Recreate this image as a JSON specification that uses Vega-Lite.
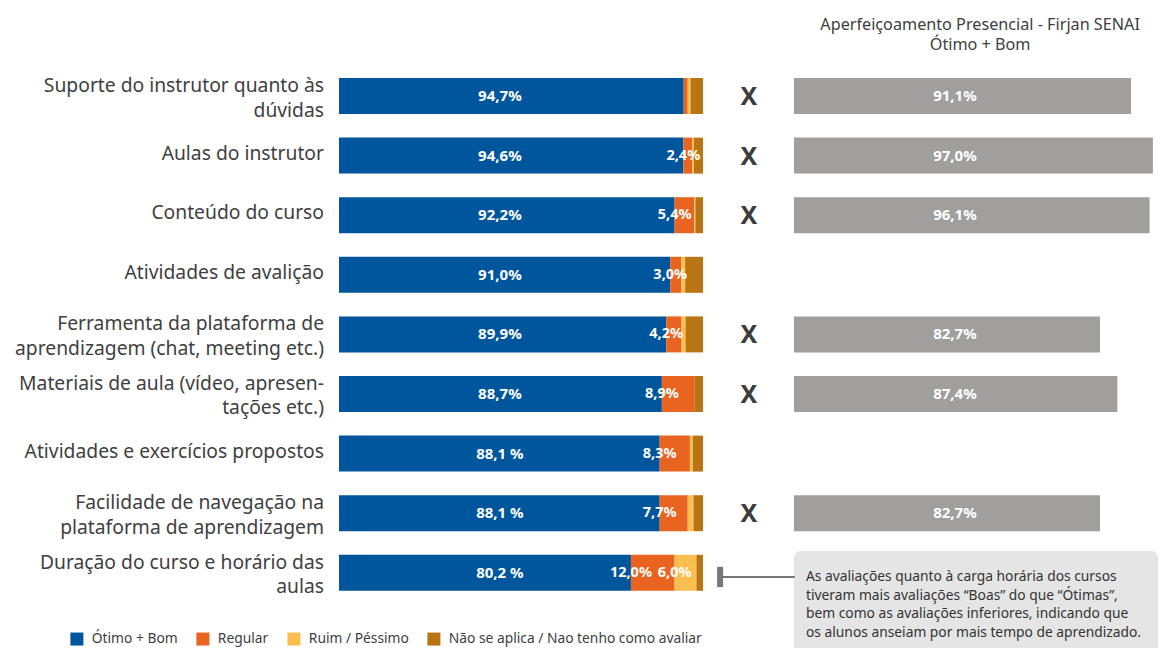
{
  "$schema": "https://vega.github.io/schema/vega-lite/v6.json",
  "width": 1171,
  "height": 648,
  "autosize": "none",
  "padding": 0,
  "background": "white",
  "config": {"view": {"stroke": null}, "font": "Noto Sans"},
  "datasets": {
    "seg": [
      {"rank": 1, "cat": "Ótimo + Bom", "order": 1, "value": 94.7, "label": "94,7%"},
      {"rank": 1, "cat": "Regular", "order": 2, "value": 1.1, "label": ""},
      {"rank": 1, "cat": "Ruim / Péssimo", "order": 3, "value": 0.8, "label": ""},
      {"rank": 1, "cat": "Não se aplica / Nao tenho como avaliar", "order": 4, "value": 3.4, "label": ""},
      {"rank": 2, "cat": "Ótimo + Bom", "order": 1, "value": 94.6, "label": "94,6%"},
      {"rank": 2, "cat": "Regular", "order": 2, "value": 2.4, "label": "2,4%"},
      {"rank": 2, "cat": "Ruim / Péssimo", "order": 3, "value": 0.5, "label": ""},
      {"rank": 2, "cat": "Não se aplica / Nao tenho como avaliar", "order": 4, "value": 2.5, "label": ""},
      {"rank": 3, "cat": "Ótimo + Bom", "order": 1, "value": 92.2, "label": "92,2%"},
      {"rank": 3, "cat": "Regular", "order": 2, "value": 5.4, "label": "5,4%"},
      {"rank": 3, "cat": "Ruim / Péssimo", "order": 3, "value": 0.3, "label": ""},
      {"rank": 3, "cat": "Não se aplica / Nao tenho como avaliar", "order": 4, "value": 2.1, "label": ""},
      {"rank": 4, "cat": "Ótimo + Bom", "order": 1, "value": 91.0, "label": "91,0%"},
      {"rank": 4, "cat": "Regular", "order": 2, "value": 3.0, "label": "3,0%"},
      {"rank": 4, "cat": "Ruim / Péssimo", "order": 3, "value": 1.1, "label": ""},
      {"rank": 4, "cat": "Não se aplica / Nao tenho como avaliar", "order": 4, "value": 4.9, "label": ""},
      {"rank": 5, "cat": "Ótimo + Bom", "order": 1, "value": 89.9, "label": "89,9%"},
      {"rank": 5, "cat": "Regular", "order": 2, "value": 4.2, "label": "4,2%"},
      {"rank": 5, "cat": "Ruim / Péssimo", "order": 3, "value": 1.1, "label": ""},
      {"rank": 5, "cat": "Não se aplica / Nao tenho como avaliar", "order": 4, "value": 4.8, "label": ""},
      {"rank": 6, "cat": "Ótimo + Bom", "order": 1, "value": 88.7, "label": "88,7%"},
      {"rank": 6, "cat": "Regular", "order": 2, "value": 8.9, "label": "8,9%"},
      {"rank": 6, "cat": "Ruim / Péssimo", "order": 3, "value": 0.0, "label": ""},
      {"rank": 6, "cat": "Não se aplica / Nao tenho como avaliar", "order": 4, "value": 2.4, "label": ""},
      {"rank": 7, "cat": "Ótimo + Bom", "order": 1, "value": 88.1, "label": "88,1 %"},
      {"rank": 7, "cat": "Regular", "order": 2, "value": 8.3, "label": "8,3%"},
      {"rank": 7, "cat": "Ruim / Péssimo", "order": 3, "value": 0.8, "label": ""},
      {"rank": 7, "cat": "Não se aplica / Nao tenho como avaliar", "order": 4, "value": 2.8, "label": ""},
      {"rank": 8, "cat": "Ótimo + Bom", "order": 1, "value": 88.1, "label": "88,1 %"},
      {"rank": 8, "cat": "Regular", "order": 2, "value": 7.7, "label": "7,7%"},
      {"rank": 8, "cat": "Ruim / Péssimo", "order": 3, "value": 1.6, "label": ""},
      {"rank": 8, "cat": "Não se aplica / Nao tenho como avaliar", "order": 4, "value": 2.6, "label": ""},
      {"rank": 9, "cat": "Ótimo + Bom", "order": 1, "value": 80.2, "label": "80,2 %"},
      {"rank": 9, "cat": "Regular", "order": 2, "value": 12.0, "label": "12,0%"},
      {"rank": 9, "cat": "Ruim / Péssimo", "order": 3, "value": 6.0, "label": "6,0%"},
      {"rank": 9, "cat": "Não se aplica / Nao tenho como avaliar", "order": 4, "value": 1.8, "label": ""}
    ],
    "items": [
      {"rank": 1, "item": ["Suporte do instrutor quanto às", "dúvidas"], "mark": "X", "presencial": 91.1, "plabel": "91,1%"},
      {"rank": 2, "item": ["Aulas do instrutor"], "mark": "X", "presencial": 97.0, "plabel": "97,0%"},
      {"rank": 3, "item": ["Conteúdo do curso"], "mark": "X", "presencial": 96.1, "plabel": "96,1%"},
      {"rank": 4, "item": ["Atividades de avalição"], "mark": "", "presencial": null, "plabel": ""},
      {"rank": 5, "item": ["Ferramenta da plataforma de", "aprendizagem (chat, meeting etc.)"], "mark": "X", "presencial": 82.7, "plabel": "82,7%"},
      {"rank": 6, "item": ["Materiais de aula (vídeo, apresen-", "tações etc.)"], "mark": "X", "presencial": 87.4, "plabel": "87,4%"},
      {"rank": 7, "item": ["Atividades e exercícios propostos"], "mark": "", "presencial": null, "plabel": ""},
      {"rank": 8, "item": ["Facilidade de navegação na", "plataforma de aprendizagem"], "mark": "X", "presencial": 82.7, "plabel": "82,7%"},
      {"rank": 9, "item": ["Duração do curso e horário das", "aulas"], "mark": "", "presencial": null, "plabel": ""}
    ]
  },
  "resolve": {"scale": {"x": "independent", "xOffset": "independent", "color": "independent"}},
  "layer": [
    {
      "data": {"name": "seg"},
      "transform": [
        {"stack": "value", "groupby": ["rank"], "sort": [{"field": "order", "order": "ascending"}], "as": ["x0", "x1"]}
      ],
      "mark": {"type": "bar", "orient": "horizontal", "height": 36},
      "encoding": {
        "x": {"field": "x0", "type": "quantitative", "axis": null, "scale": {"domain": [0, 100], "range": [339, 703], "nice": false, "zero": false, "padding": 0}},
        "x2": {"field": "x1"},
        "y": {"field": "rank", "type": "quantitative", "axis": null, "scale": {"domain": [-0.611, 10.262], "range": [0, 648], "nice": false, "zero": false, "padding": 0}},
        "color": {
          "field": "cat", "type": "nominal",
          "scale": {"domain": ["Ótimo + Bom", "Regular", "Ruim / Péssimo", "Não se aplica / Nao tenho como avaliar"], "range": ["#00569d", "#e96421", "#fbbe4f", "#b97414"]},
          "legend": {"orient": "none", "legendX": 70, "legendY": 632, "direction": "horizontal", "title": null, "symbolType": "square", "symbolSize": 169, "symbolStrokeWidth": 0, "labelFontSize": 13.8, "labelColor": "#404040", "labelFont": "Noto Sans", "columnPadding": 18, "labelOffset": 8, "labelLimit": 400}
        }
      }
    },
    {
      "data": {"name": "seg"},
      "transform": [{"filter": "datum.order == 1"}],
      "mark": {"type": "text", "color": "white", "fontWeight": "bold", "fontSize": 15, "baseline": "middle", "align": "center"},
      "encoding": {
        "x": {"datum": 44.2, "type": "quantitative", "axis": null, "scale": {"domain": [0, 100], "range": [339, 703], "nice": false, "zero": false, "padding": 0}},
        "y": {"field": "rank", "type": "quantitative", "axis": null, "scale": {"domain": [-0.611, 10.262], "range": [0, 648], "nice": false, "zero": false, "padding": 0}},
        "text": {"field": "label"}
      }
    },
    {
      "data": {"name": "seg"},
      "transform": [
        {"stack": "value", "groupby": ["rank"], "sort": [{"field": "order", "order": "ascending"}], "as": ["x0", "x1"]},
        {"filter": "datum.order > 1 && datum.label != ''"}
      ],
      "mark": {"type": "text", "color": "white", "fontWeight": "bold", "fontSize": 14.5, "baseline": "middle", "align": "center"},
      "encoding": {
        "x": {"field": "x0", "type": "quantitative", "axis": null, "scale": {"domain": [0, 100], "range": [339, 703], "nice": false, "zero": false, "padding": 0}},
        "xOffset": {"field": "value", "type": "quantitative", "scale": {"domain": [0, 100], "range": [0, 182]}},
        "y": {"field": "rank", "type": "quantitative", "axis": null, "scale": {"domain": [-0.611, 10.262], "range": [0, 648], "nice": false, "zero": false, "padding": 0}},
        "text": {"field": "label"}
      }
    },
    {
      "data": {"name": "items"},
      "transform": [{"filter": "length(datum.item) == 1"}],
      "mark": {"type": "text", "color": "#404040", "fontSize": 19.3, "lineHeight": 24, "baseline": "middle", "align": "right", "dx": -15, "dy": -2},
      "encoding": {
        "x": {"datum": 0, "type": "quantitative", "axis": null, "scale": {"domain": [0, 100], "range": [339, 703], "nice": false, "zero": false, "padding": 0}},
        "y": {"field": "rank", "type": "quantitative", "axis": null, "scale": {"domain": [-0.611, 10.262], "range": [0, 648], "nice": false, "zero": false, "padding": 0}},
        "text": {"field": "item"}
      }
    },
    {
      "data": {"name": "items"},
      "transform": [{"filter": "length(datum.item) == 2"}],
      "mark": {"type": "text", "color": "#404040", "fontSize": 19.3, "lineHeight": 24.5, "baseline": "middle", "align": "right", "dx": -15, "dy": -10},
      "encoding": {
        "x": {"datum": 0, "type": "quantitative", "axis": null, "scale": {"domain": [0, 100], "range": [339, 703], "nice": false, "zero": false, "padding": 0}},
        "y": {"field": "rank", "type": "quantitative", "axis": null, "scale": {"domain": [-0.611, 10.262], "range": [0, 648], "nice": false, "zero": false, "padding": 0}},
        "text": {"field": "item"}
      }
    },
    {
      "data": {"name": "items"},
      "transform": [{"filter": "datum.mark == 'X'"}],
      "mark": {"type": "text", "color": "#3c3c3c", "fontSize": 25, "fontWeight": "bold", "baseline": "middle", "align": "center", "dy": 1},
      "encoding": {
        "x": {"datum": 112.6, "type": "quantitative", "axis": null, "scale": {"domain": [0, 100], "range": [339, 703], "nice": false, "zero": false, "padding": 0}},
        "y": {"field": "rank", "type": "quantitative", "axis": null, "scale": {"domain": [-0.611, 10.262], "range": [0, 648], "nice": false, "zero": false, "padding": 0}},
        "text": {"field": "mark"}
      }
    },
    {
      "data": {"name": "items"},
      "transform": [{"filter": "isValid(datum.presencial)"}],
      "mark": {"type": "bar", "orient": "horizontal", "height": 36, "color": "#a09f9e"},
      "encoding": {
        "x": {"field": "presencial", "type": "quantitative", "axis": null, "scale": {"domain": [0, 100], "range": [794, 1164], "nice": false, "zero": false, "padding": 0}},
        "x2": {"datum": 0},
        "y": {"field": "rank", "type": "quantitative", "axis": null, "scale": {"domain": [-0.611, 10.262], "range": [0, 648], "nice": false, "zero": false, "padding": 0}}
      }
    },
    {
      "data": {"name": "items"},
      "transform": [{"filter": "isValid(datum.presencial)"}],
      "mark": {"type": "text", "color": "white", "fontWeight": "bold", "fontSize": 15, "baseline": "middle", "align": "center"},
      "encoding": {
        "x": {"datum": 43.5, "type": "quantitative", "axis": null, "scale": {"domain": [0, 100], "range": [794, 1164], "nice": false, "zero": false, "padding": 0}},
        "y": {"field": "rank", "type": "quantitative", "axis": null, "scale": {"domain": [-0.611, 10.262], "range": [0, 648], "nice": false, "zero": false, "padding": 0}},
        "text": {"field": "plabel"}
      }
    },
    {
      "data": {"values": [{}]},
      "mark": {"type": "text", "text": ["Aperfeiçoamento Presencial - Firjan SENAI", "Ótimo + Bom"], "color": "#404040", "fontSize": 16.2, "lineHeight": 20, "baseline": "top", "align": "center"},
      "encoding": {
        "x": {"datum": 50.3, "type": "quantitative", "axis": null, "scale": {"domain": [0, 100], "range": [794, 1164], "nice": false, "zero": false, "padding": 0}},
        "y": {"datum": -0.32, "type": "quantitative", "axis": null, "scale": {"domain": [-0.611, 10.262], "range": [0, 648], "nice": false, "zero": false, "padding": 0}}
      }
    },
    {
      "data": {"values": [{}]},
      "mark": {"type": "rect", "color": "#e5e5e5", "cornerRadius": 7},
      "encoding": {
        "x": {"datum": 0, "type": "quantitative", "axis": null, "scale": {"domain": [0, 100], "range": [794, 1164], "nice": false, "zero": false, "padding": 0}},
        "x2": {"datum": 98.4},
        "y": {"datum": 8.634, "type": "quantitative", "axis": null, "scale": {"domain": [-0.611, 10.262], "range": [0, 648], "nice": false, "zero": false, "padding": 0}},
        "y2": {"datum": 10.5}
      }
    },
    {
      "data": {"values": [{}]},
      "mark": {"type": "text", "text": ["As avaliações quanto à carga horária dos cursos", "tiveram mais avaliações “Boas” do que “Ótimas”,", "bem como as avaliações inferiores, indicando que", "os alunos anseiam por mais tempo de aprendizado."], "color": "#333333", "fontSize": 13.8, "lineHeight": 18.8, "baseline": "top", "align": "left"},
      "encoding": {
        "x": {"datum": 3.24, "type": "quantitative", "axis": null, "scale": {"domain": [0, 100], "range": [794, 1164], "nice": false, "zero": false, "padding": 0}},
        "y": {"datum": 8.95, "type": "quantitative", "axis": null, "scale": {"domain": [-0.611, 10.262], "range": [0, 648], "nice": false, "zero": false, "padding": 0}}
      }
    },
    {
      "data": {"values": [{}]},
      "mark": {"type": "rule", "color": "#777777", "strokeWidth": 2},
      "encoding": {
        "x": {"datum": 104.4, "type": "quantitative", "axis": null, "scale": {"domain": [0, 100], "range": [339, 703], "nice": false, "zero": false, "padding": 0}},
        "x2": {"datum": 125.2},
        "y": {"datum": 9.07, "type": "quantitative", "axis": null, "scale": {"domain": [-0.611, 10.262], "range": [0, 648], "nice": false, "zero": false, "padding": 0}}
      }
    },
    {
      "data": {"values": [{}]},
      "mark": {"type": "rule", "color": "#777777", "strokeWidth": 6},
      "encoding": {
        "x": {"datum": 104.7, "type": "quantitative", "axis": null, "scale": {"domain": [0, 100], "range": [339, 703], "nice": false, "zero": false, "padding": 0}},
        "y": {"datum": 8.9, "type": "quantitative", "axis": null, "scale": {"domain": [-0.611, 10.262], "range": [0, 648], "nice": false, "zero": false, "padding": 0}},
        "y2": {"datum": 9.24}
      }
    }
  ]
}
